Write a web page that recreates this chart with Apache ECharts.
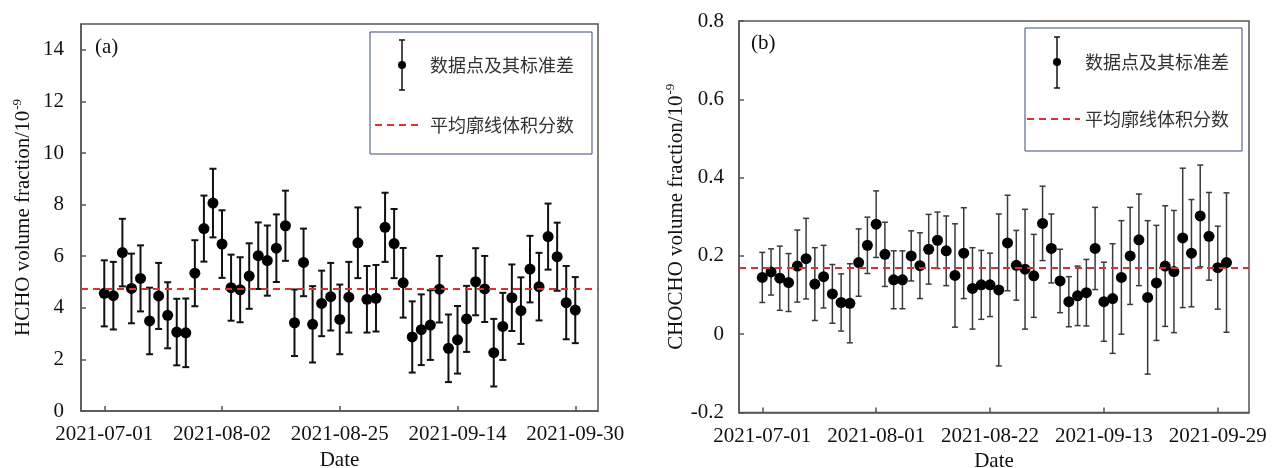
<!DOCTYPE html>
<html><head><meta charset="utf-8">
<script src="https://cdn.jsdelivr.net/npm/echarts@6/dist/echarts.min.js"></script>
<style>html,body{margin:0;padding:0;background:#fff}#c{width:1282px;height:468px}</style>
</head><body><div id="c"></div>
<script>
// ---- data (a) HCHO ----
const hchoValues = [4.56,4.47,6.14,4.75,5.14,3.49,4.46,3.71,3.06,3.03,
  5.34,7.07,8.06,6.47,4.78,4.70,5.23,6.02,5.83,6.31,
  7.18,3.42,5.76,3.36,4.17,4.43,3.55,4.41,6.52,4.33,
  4.37,7.12,6.49,4.97,2.87,3.15,3.33,4.72,2.43,2.76,
  3.57,5.01,4.73,2.26,3.28,4.39,3.89,5.50,4.82,6.76,
  5.98,4.20,3.91];
const hchoErrors = [1.28,1.31,1.31,1.35,1.28,1.29,1.28,1.28,1.29,1.33,
  1.28,1.28,1.33,1.31,1.28,1.26,1.27,1.29,1.36,1.31,
  1.36,1.29,1.31,1.48,1.27,1.31,1.35,1.37,1.37,1.29,
  1.29,1.34,1.34,1.35,1.38,1.37,1.35,1.29,1.31,1.31,
  1.28,1.30,1.28,1.31,1.30,1.29,1.29,1.29,1.31,1.28,
  1.32,1.42,1.28];
const hchoMean = 4.74;
const hchoTickIndex = [0,13,26,39,52];
const hchoTickLabels = ['2021-07-01','2021-08-02','2021-08-25','2021-09-14','2021-09-30'];
const hchoYTicks = [0,2,4,6,8,10,12,14];

// ---- data (b) CHOCHO ----
const chochoValues = [0.145,0.159,0.143,0.132,0.174,0.193,0.128,0.147,0.103,0.081,
  0.079,0.183,0.227,0.281,0.204,0.139,0.139,0.200,0.175,0.217,
  0.240,0.213,0.150,0.207,0.117,0.126,0.126,0.113,0.233,0.176,
  0.166,0.149,0.283,0.219,0.136,0.083,0.098,0.106,0.219,0.083,
  0.091,0.145,0.200,0.241,0.094,0.131,0.174,0.160,0.246,0.207,
  0.302,0.250,0.170,0.183];
const chochoErrors = [0.064,0.059,0.082,0.074,0.092,0.103,0.093,0.080,0.075,0.073,
  0.101,0.086,0.072,0.085,0.082,0.074,0.074,0.064,0.084,0.089,
  0.072,0.089,0.132,0.116,0.104,0.088,0.081,0.194,0.122,0.089,
  0.153,0.106,0.095,0.088,0.081,0.064,0.076,0.085,0.105,0.101,
  0.140,0.145,0.124,0.117,0.196,0.147,0.154,0.156,0.178,0.137,
  0.130,0.112,0.106,0.178];
const chochoMean = 0.168;
const chochoTickIndex = [0,13,26,39,52];
const chochoTickLabels = ['2021-07-01','2021-08-01','2021-08-22','2021-09-13','2021-09-29'];
const chochoYTicks = [-0.2,0,0.2,0.4,0.6,0.8];

const legendPoint = '数据点及其标准差';
const legendMean = '平均廓线体积分数';

const SERIF = '"Liberation Serif","Times New Roman",serif';
const CJK = '"Noto Sans CJK SC",sans-serif';
const AXIS_COLOR = '#555';
const MEAN_COLOR = '#e0302e';

function errData(vals, errs){ return vals.map((v,i)=>[i, v, v-errs[i], v+errs[i]]); }
function ptData(vals){ return vals.map((v,i)=>[i, v]); }

function errRender(color, width, cap){
  return function(params, api){
    const x = api.value(0);
    const lo = api.coord([x, api.value(2)]);
    const hi = api.coord([x, api.value(3)]);
    const st = {stroke: color, lineWidth: width};
    return {type:'group', children:[
      {type:'line', shape:{x1:hi[0],y1:hi[1],x2:lo[0],y2:lo[1]}, style:st},
      {type:'line', shape:{x1:hi[0]-cap,y1:hi[1],x2:hi[0]+cap,y2:hi[1]}, style:st},
      {type:'line', shape:{x1:lo[0]-cap,y1:lo[1],x2:lo[0]+cap,y2:lo[1]}, style:st}
    ]};
  };
}

function xAxisCfg(gi, min, max, idx, labels, gap, margin){
  return {
    type:'value', gridIndex:gi, min:min, max:max,
    name:'Date', nameLocation:'middle', nameGap:gap,
    nameTextStyle:{fontFamily:SERIF, fontSize:21, color:'#111'},
    axisLine:{show:true, onZero:false, lineStyle:{color:AXIS_COLOR, width:1.5}},
    axisTick:{show:true, inside:true, length:5, customValues:idx, lineStyle:{color:AXIS_COLOR, width:1.5}},
    axisLabel:{customValues:idx, margin:margin, fontFamily:SERIF, fontSize:21, color:'#111',
      formatter:v=>{const k=idx.indexOf(Math.round(v)); return k>=0?labels[k]:'';}},
    splitLine:{show:false}
  };
}
function yAxisCfg(gi, min, max, ticks, nameHead, gap, margin, fmt){
  return {
    type:'value', gridIndex:gi, min:min, max:max,
    name:'{n|'+nameHead+'}{s|-9}', nameLocation:'middle', nameGap:gap, nameRotate:90,
    nameTextStyle:{rich:{
      n:{fontFamily:SERIF, fontSize:21, color:'#111', lineHeight:24},
      s:{fontFamily:SERIF, fontSize:13, color:'#111', verticalAlign:'top', lineHeight:24, padding:[0,0,0,1]}
    }},
    axisLine:{show:true, onZero:false, lineStyle:{color:AXIS_COLOR, width:1.5}},
    axisTick:{show:true, inside:true, length:5, customValues:ticks, lineStyle:{color:AXIS_COLOR, width:1.5}},
    axisLabel:{customValues:ticks, margin:margin, fontFamily:SERIF, fontSize:21, color:'#111', formatter:fmt},
    splitLine:{show:false}
  };
}

function legendGraphics(bx, by, bw, bh, sx, sy1, sy2, dotY, tx, dx1, dx2, dy){
  return [
    {type:'rect', shape:{x:bx, y:by, width:bw, height:bh}, style:{fill:'#fff', stroke:'#3b4a78', lineWidth:1}, z:100},
    {type:'line', shape:{x1:sx,y1:sy1,x2:sx,y2:sy2}, style:{stroke:'#111', lineWidth:1.5}, z:101},
    {type:'line', shape:{x1:sx-3,y1:sy1,x2:sx+3,y2:sy1}, style:{stroke:'#111', lineWidth:1.5}, z:101},
    {type:'line', shape:{x1:sx-3,y1:sy2,x2:sx+3,y2:sy2}, style:{stroke:'#111', lineWidth:1.5}, z:101},
    {type:'circle', shape:{cx:sx, cy:dotY, r:4}, style:{fill:'#000'}, z:102},
    {type:'text', x:tx, y:dotY, style:{text:legendPoint, font:'18px '+CJK, fill:'#333', textVerticalAlign:'middle'}, z:101},
    {type:'line', shape:{x1:dx1,y1:dy,x2:dx2,y2:dy}, style:{stroke:MEAN_COLOR, lineWidth:2, lineDash:[7,5]}, z:101},
    {type:'text', x:tx, y:dy, style:{text:legendMean, font:'18px '+CJK, fill:'#333', textVerticalAlign:'middle'}, z:101}
  ];
}

const chart = echarts.init(document.getElementById('c'), null, {renderer:'canvas'});
chart.setOption({
  backgroundColor:'#fff',
  animation:false,
  grid:[
    {left:81, top:24, width:517, height:387, show:true, borderColor:AXIS_COLOR, borderWidth:1.5, backgroundColor:'transparent', containLabel:false, outerBoundsMode:'none'},
    {left:739, top:21, width:510, height:391.5, show:true, borderColor:AXIS_COLOR, borderWidth:1.5, backgroundColor:'transparent', containLabel:false, outerBoundsMode:'none'}
  ],
  xAxis:[
    xAxisCfg(0, -2.57, 54.51, hchoTickIndex, hchoTickLabels, 32, 13),
    xAxisCfg(1, -2.66, 55.57, chochoTickIndex, chochoTickLabels, 35, 13)
  ],
  yAxis:[
    yAxisCfg(0, 0, 15, hchoYTicks, 'HCHO volume fraction/10', 46, 17, v=>String(v)),
    yAxisCfg(1, -0.2, 0.8, chochoYTicks, 'CHOCHO volume fraction/10', 43, 15, v=>{const r=Math.round(v*10)/10; return r===0?'0':String(r);})
  ],
  series:[
    {type:'custom', xAxisIndex:0, yAxisIndex:0, data:errData(hchoValues,hchoErrors),
     renderItem:errRender('#111',2,3.5), encode:{x:0,y:[1,2,3]}, z:2, silent:true},
    {type:'scatter', xAxisIndex:0, yAxisIndex:0, data:ptData(hchoValues), symbolSize:11,
     itemStyle:{color:'#000', opacity:1}, z:3, silent:true,
     markLine:{silent:true, symbol:'none', label:{show:false}, data:[{yAxis:hchoMean}],
       lineStyle:{color:MEAN_COLOR, width:2, type:[7,5]}}},
    {type:'custom', xAxisIndex:1, yAxisIndex:1, data:errData(chochoValues,chochoErrors),
     renderItem:errRender('#3a3a3a',1.5,3), encode:{x:0,y:[1,2,3]}, z:2, silent:true},
    {type:'scatter', xAxisIndex:1, yAxisIndex:1, data:ptData(chochoValues), symbolSize:11,
     itemStyle:{color:'#000', opacity:1}, z:3, silent:true,
     markLine:{silent:true, symbol:'none', label:{show:false}, data:[{yAxis:chochoMean}],
       lineStyle:{color:MEAN_COLOR, width:2, type:[7,5]}}}
  ],
  graphic:[
    {type:'text', x:95, y:47, style:{text:'(a)', font:'21px '+SERIF, fill:'#111', textVerticalAlign:'middle'}},
    {type:'text', x:751, y:43, style:{text:'(b)', font:'21px '+SERIF, fill:'#111', textVerticalAlign:'middle'}}
  ].concat(
    legendGraphics(370, 32, 222, 122, 402, 40, 90, 65, 430, 375, 423, 125),
    legendGraphics(1025, 28, 217, 123, 1057, 37, 88, 62, 1085, 1027, 1080, 119)
  )
});
</script></body></html>
